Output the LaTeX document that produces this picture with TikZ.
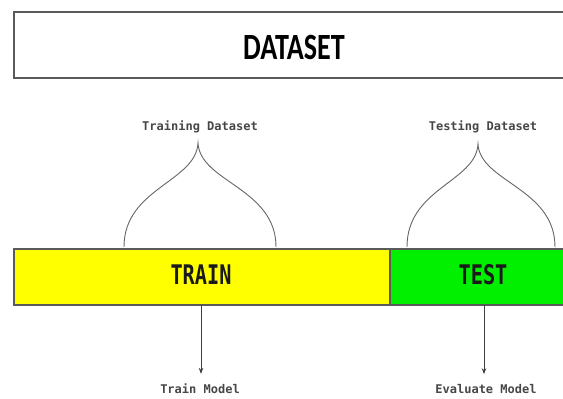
\documentclass[tikz,border=0pt]{standalone}
\usepackage{fontspec}
\usepackage{graphicx}
\usetikzlibrary{arrows.meta}
\newfontfamily\titlefont{Carlito}
\newfontfamily\monofont{DejaVu Sans Mono}
\definecolor{trainyellow}{HTML}{FFFF00}
\definecolor{testgreen}{HTML}{00F000}
\definecolor{edgegray}{HTML}{5A5A5A}
\definecolor{textdark}{HTML}{1A1A1A}
\tikzset{
  block/.style={draw=edgegray, line width=1.5pt, inner sep=0pt, anchor=north west},
  ogee/.style={draw=black!60, line width=0.9pt},
  flow/.style={draw=black!75, line width=0.9pt, shorten >=9pt, -{Stealth[length=6pt,width=4.5pt]}},
  smalllabel/.style={font=\monofont\bfseries\fontsize{12}{14}\selectfont, text=black!72, inner sep=1pt},
  biglabel/.style={font=\monofont\bfseries\fontsize{27}{30}\selectfont, text=textdark}
}
\begin{document}
\begin{tikzpicture}[x=1pt, y=-1pt]
  \useasboundingbox (0,0) rectangle (563,399);
  \clip (0,0) rectangle (563,399);
  \fill[white] (0,0) rectangle (563,399);

  % top dataset bar
  \node[block, fill=white, minimum width=580pt, minimum height=66pt] (dataset) at (13,11) {};
  \node[font=\titlefont\bfseries\fontsize{37}{40}\selectfont, text=black] (datasettext) at (294,47) {\scalebox{0.76}[1]{DATASET}};

  % split bar
  \node[block, fill=trainyellow, minimum width=376pt, minimum height=56pt] (train) at (13,248) {};
  \node[block, fill=testgreen, minimum width=200pt, minimum height=56pt] (test) at (389,248) {};
  \node[biglabel] (traintext) at (201,275) {\scalebox{0.75}[1]{TRAIN}};
  \node[biglabel] (testtext) at (483,275) {\scalebox{0.75}[1]{TEST}};

  % labels above the bar
  \node[smalllabel] (trainlbl) at (200,127) {Training Dataset};
  \node[smalllabel] (testlbl) at (483,127) {Testing Dataset};

  % labels below the bar
  \node[smalllabel] (trainmodel) at (200,389) {Train Model};
  \node[smalllabel] (evalmodel) at (486,389) {Evaluate Model};

  % feet and peaks of the ogee braces
  \coordinate (trL) at (124,247);
  \coordinate (trR) at (276,247);
  \coordinate (trP) at (198,143);
  \coordinate (teL) at (407,247);
  \coordinate (teR) at (555,247);
  \coordinate (teP) at (478,144);

  \draw[ogee] (trL) .. controls (124,188) and (196,182) .. (trP)
              .. controls (200,182) and (276,188) .. (trR);
  \draw[ogee] (teL) .. controls (407,188) and (476,182) .. (teP)
              .. controls (480,182) and (555,188) .. (teR);

  % arrows down to the model steps
  \coordinate (trainout) at (201,305);
  \coordinate (testout) at (484,305);
  \draw[flow] (trainout) -- (trainout |- trainmodel.north);
  \draw[flow] (testout) -- (testout |- evalmodel.north);
\end{tikzpicture}
\end{document}
